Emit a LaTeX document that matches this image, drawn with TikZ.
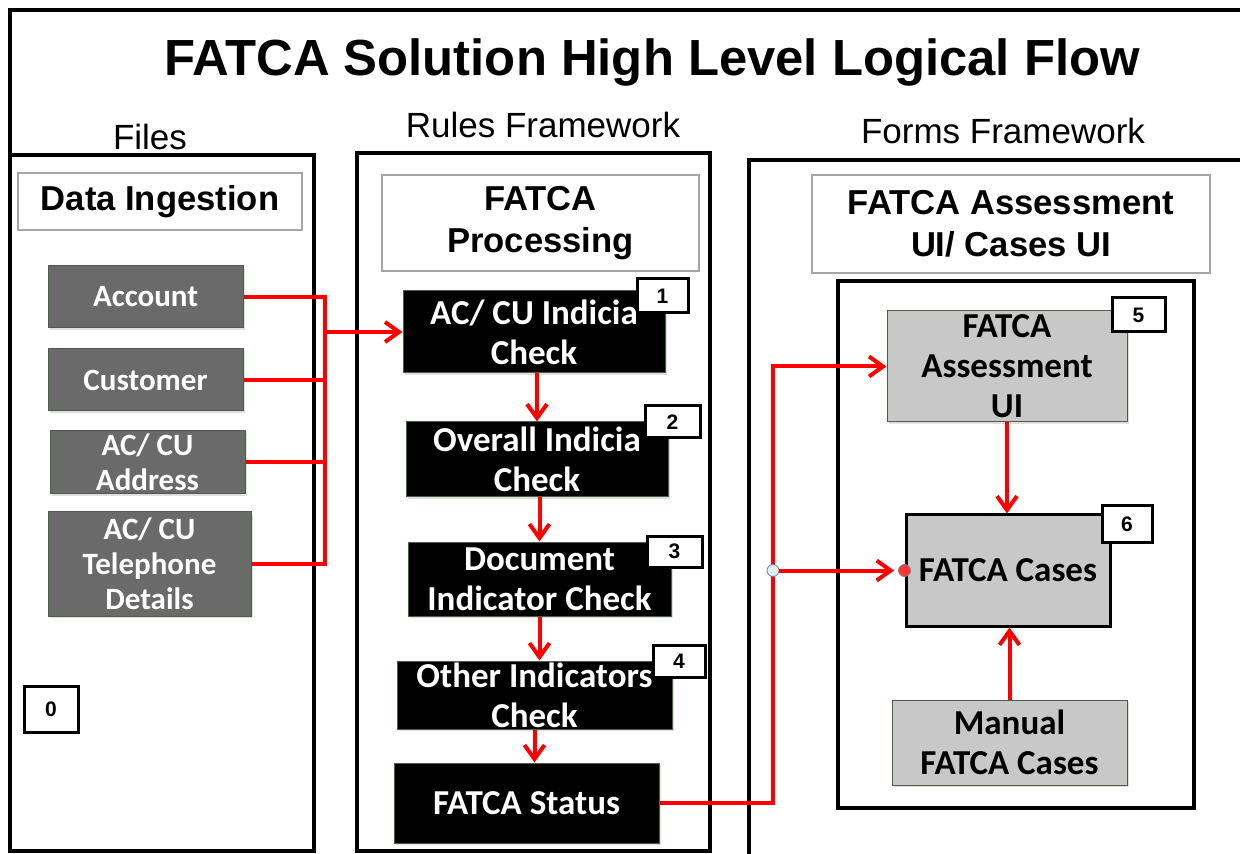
\documentclass[tikz,border=0pt]{standalone}
\usepackage{fontspec}
\setmainfont{Liberation Sans}
\newfontfamily\calibri{Carlito}
\usepackage{tikz}
\usetikzlibrary{arrows.meta,shadows}

\definecolor{darkbox}{HTML}{6A6A6A}
\definecolor{lightbox}{HTML}{C8C8C8}
\definecolor{boxedge}{HTML}{4A6046}
\definecolor{hdredge}{HTML}{A6A6A6}
\definecolor{jointfill}{HTML}{DCEFF2}

\tikzset{
	frame/.style={line width=1.6pt},
	label/.style={font=\fontsize{17.5}{20}\selectfont},
	hdrbox/.style={draw=hdredge,line width=0.6pt,fill=white,align=center,inner sep=0pt,font=\bfseries\fontsize{17.3}{21}\selectfont},
	databox/.style={draw=boxedge,line width=0.5pt,fill=darkbox,text=white,align=center,inner sep=0pt,
		font=\calibri\bfseries\fontsize{15.5}{17.5}\selectfont,
		drop shadow={opacity=0.25,shadow xshift=1.2pt,shadow yshift=-1.2pt}},
	blackbox/.style={draw=boxedge,line width=0.5pt,fill=black,text=white,align=center,inner sep=0pt,
		font=\calibri\bfseries\fontsize{17.5}{20}\selectfont,
		drop shadow={opacity=0.25,shadow xshift=1.2pt,shadow yshift=-1.2pt}},
	formbox/.style={draw=boxedge,line width=0.5pt,fill=lightbox,align=center,inner sep=0pt,
		font=\calibri\bfseries\fontsize{17.5}{20}\selectfont,
		drop shadow={opacity=0.25,shadow xshift=1.2pt,shadow yshift=-1.2pt}},
	numbox/.style={draw,line width=1.5pt,fill=white,inner sep=0pt,font=\bfseries\fontsize{10.5}{12}\selectfont},
	flow/.style={draw=red,line width=2pt,-{Straight Barb[length=7pt,width=10pt,line width=2pt]}},
	bus/.style={draw=red,line width=2pt},
}

\begin{document}
\begin{tikzpicture}[x=0.5pt,y=-0.5pt]
		\useasboundingbox (0,0) rectangle (1240,854);
		%frames
		\draw [frame] (10,155) -- (10,10) -- (1250,10);
		\draw [frame] (10,155) rectangle (314,851);
		\draw [frame] (357,153) rectangle (710,851);
		\draw [frame] (749,870) -- (749,160) -- (1250,160);
		\draw [frame] (838,281) rectangle (1194,808);
		\node [font=\bfseries\fontsize{25.4}{28}\selectfont] (title) at (652,62) {FATCA Solution High Level Logical Flow};
		\node [label] (files) at (150,137) {Files};
		\node [label] (rules) at (543,125) {Rules Framework};
		\node [label] (forms) at (1003,131) {Forms Framework};
		%headers
		\node [hdrbox,minimum width=142pt,minimum height=28.5pt] (ingest) at (160,201.5) {Data Ingestion};
		\node [hdrbox,minimum width=158.5pt,minimum height=48pt] (proc) at (540.5,223) {FATCA\\Processing};
		\node [hdrbox,minimum width=199pt,minimum height=49pt] (assess) at (1011,224) {FATCA Assessment\\UI/ Cases UI};
		%files
		\node [databox,minimum width=97.5pt,minimum height=31pt] (acc) at (145.5,297) {Account};
		\node [databox,minimum width=97.5pt,minimum height=31pt] (cust) at (145.5,380) {Customer};
		\node [databox,minimum width=97.5pt,minimum height=31.5pt] (addr) at (147.5,462.5) {AC/ CU\\Address};
		\node [databox,minimum width=101.5pt,minimum height=52pt] (tel) at (149.5,564) {AC/ CU\\Telephone\\Details};
		%rules
		\node [blackbox,minimum width=131pt,minimum height=41pt] (chk1) at (534,332) {AC/ CU Indicia\\Check};
		\node [blackbox,minimum width=131pt,minimum height=37.5pt] (chk2) at (537,459.5) {Overall Indicia\\Check};
		\node [blackbox,minimum width=131.5pt,minimum height=37pt] (chk3) at (539.5,579) {Document\\Indicator Check};
		\node [blackbox,minimum width=137.5pt,minimum height=34pt] (chk4) at (534.5,695) {Other Indicators\\Check};
		\node [blackbox,minimum width=132.5pt,minimum height=40pt] (status) at (526.5,803) {FATCA Status};
		%forms
		\node [formbox,minimum width=120pt,minimum height=55.5pt] (ui) at (1007,366.5) {FATCA\\Assessment\\UI};
		\node [formbox,draw=black,line width=1.5pt,minimum width=102pt,minimum height=55.5pt] (cases) at (1008,570.5) {FATCA Cases};
		\node [formbox,minimum width=117.5pt,minimum height=42.5pt] (manual) at (1009.5,742.5) {Manual\\FATCA Cases};
		%step numbers
		\node [numbox,minimum width=27pt,minimum height=23pt] (n0) at (51,709) {0};
		\node [numbox,minimum width=25.5pt,minimum height=17pt] (n1) at (662.5,296) {1};
		\node [numbox,minimum width=27.5pt,minimum height=16pt] (n2) at (672.5,422) {2};
		\node [numbox,minimum width=27.5pt,minimum height=15.5pt] (n3) at (674.5,551.5) {3};
		\node [numbox,minimum width=26pt,minimum height=16pt] (n4) at (679,661) {4};
		\node [numbox,minimum width=26.5pt,minimum height=17pt] (n5) at (1138.5,315) {5};
		\node [numbox,minimum width=25pt,minimum height=18pt] (n6) at (1127,524) {6};
		%connectors
		\coordinate (join) at (325,332);
		\draw [bus] (acc.east) -| (join);
		\draw [bus] (cust.east) -| (join);
		\draw [bus] (addr.east) -| (join);
		\draw [bus] (tel.east) -| (join);
		\draw [flow] (join) -- (chk1.west);
		\draw [flow] (chk1.south -| chk2.north) -- (chk2.north);
		\draw [flow] (chk2.south -| chk3.north) -- (chk3.north);
		\draw [flow] (chk3.south) -- (chk3.south |- chk4.north);
		\draw [flow] (chk4.south) -- (chk4.south |- status.north);
		\coordinate (turn) at (773,366.5);
		\draw [flow] (status.east) -| (turn) -- (ui.west);
		\node [draw=gray,fill=jointfill,circle,inner sep=0pt,minimum size=6pt] (tap) at (773,570.5) {};
		\node [draw=gray,fill=red!80,circle,inner sep=0pt,minimum size=6pt] (tip) at (cases.west) {};
		\draw [flow,shorten >=2pt] (tap) -- (tip);
		\draw [flow] (ui.south) -- (ui.south |- cases.north);
		\draw [flow] (manual.north) -- (manual.north |- cases.south);
\end{tikzpicture}
\end{document}
